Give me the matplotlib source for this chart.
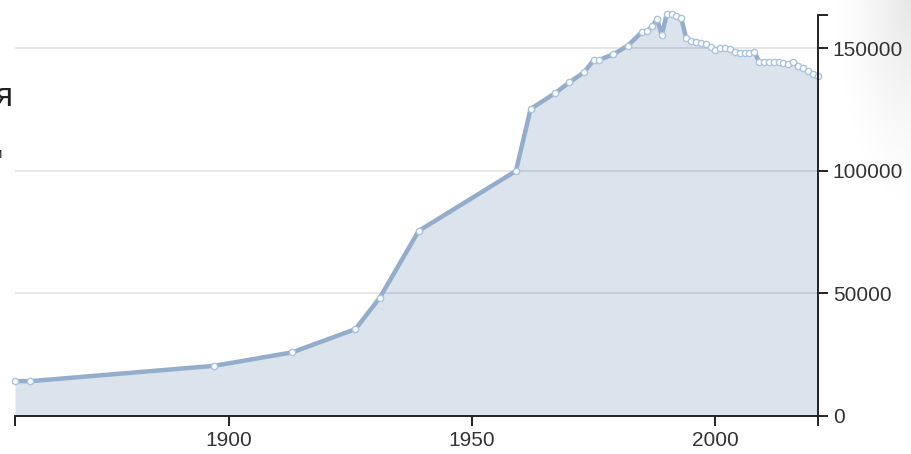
import numpy as np
import matplotlib
matplotlib.use('Agg')
import matplotlib.pyplot as plt

plt.rcParams['font.family'] = ['Liberation Sans', 'DejaVu Sans']

# данные: год и население
years = [1856, 1859, 1897, 1913, 1926, 1931, 1939, 1959, 1962, 1967, 1970,
         1973, 1975, 1976, 1979, 1982, 1985, 1986, 1987, 1988, 1989, 1990,
         1991, 1992, 1993, 1994, 1995, 1996, 1997, 1998, 1999, 2000, 2001,
         2002, 2003, 2004, 2005, 2006, 2007, 2008, 2009, 2010, 2011, 2012,
         2013, 2014, 2015, 2016, 2017, 2018, 2019, 2020, 2021]
population = [14100, 14000, 20300, 25800, 35300, 48100, 75400, 99900, 125200,
              131600, 136100, 140200, 145200, 145200, 147500, 151100, 156800,
              157000, 159100, 161800, 155400, 164000, 164000, 163200, 162200,
              154100, 153100, 152700, 152000, 151600, 150700, 149300, 150200,
              150200, 149600, 148600, 148200, 148200, 148200, 148600, 144500,
              144500, 144500, 144300, 144300, 143900, 143500, 144300, 142900,
              141800, 140800, 139300, 138500]
x_ticks = [1900, 1950, 2000]
y_ticks = [0, 50000, 100000, 150000]

W, H = 911, 454
fig = plt.figure(figsize=(W / 100, H / 100), dpi=100)

# лёгкая тень в правом верхнем углу
bg = fig.add_axes([0, 0, 1, 1], zorder=-5)
gx, gy = np.meshgrid(np.linspace(0, 1, 300), np.linspace(0, 1, 300))
d = np.sqrt(((gx - 1) / 0.09) ** 2 + ((gy - 1) / 0.5) ** 2)
shade = np.clip(1 - d, 0, 1) ** 1.5 * 0.1
rgba = np.zeros((300, 300, 4))
rgba[..., 3] = shade
bg.imshow(rgba, extent=[0, 1, 0, 1], origin='lower', aspect='auto')
bg.axis('off')

left, right = 15 / W, 817.5 / W
bottom, top = (H - 415.5) / H, (H - 15) / H
ax = fig.add_axes([left, bottom, right - left, top - bottom])
ax.patch.set_alpha(0)

ymax = 163600
ax.set_xlim(years[0], years[-1])
ax.set_ylim(0, ymax)

# сетка
for v in y_ticks[1:]:
    ax.axhline(v, color='#000000', alpha=0.1, lw=1.3, zorder=3)

ax.fill_between(years, population, 0, color='#dbe3ec', lw=0, zorder=1,
                clip_on=False)
ax.plot(years, population, color='#94adcb', lw=3.2, zorder=4,
        solid_joinstyle='round', clip_on=False)
ax.plot(years, population, ls='none', marker='o', ms=4.5, mfc='white',
        mec='#a9c3e0', mew=1.0, zorder=5, clip_on=False)

for s in ['top', 'left']:
    ax.spines[s].set_visible(False)
for s in ['bottom', 'right']:
    ax.spines[s].set_color('#222222')
    ax.spines[s].set_linewidth(1.4)
    ax.spines[s].set_zorder(6)

ax.yaxis.tick_right()
ax.set_xticks([years[0]] + x_ticks + [years[-1]])
ax.set_xticklabels([''] + [str(t) for t in x_ticks] + [''])
ax.set_yticks(y_ticks + [ymax])
ax.set_yticklabels([str(t) for t in y_ticks] + [''])
ax.tick_params(axis='both', direction='out', length=7, width=1.4,
               color='#222222', labelsize=15, labelcolor='#333333')
ax.tick_params(axis='x', pad=4)
ax.tick_params(axis='y', pad=4)
for t in ax.xaxis.get_major_ticks() + ax.yaxis.get_major_ticks():
    t.tick1line.set_clip_on(False)

# обрезанный текст слева
fig.text(12.5 / W, (H - 106) / H, 'я', ha='right', va='baseline',
         fontsize=24, color='#222222')
fig.text(2.5 / W, (H - 158) / H, 'и', ha='right', va='baseline',
         fontsize=11, color='#333333')

fig.savefig('out.png', dpi=100)
